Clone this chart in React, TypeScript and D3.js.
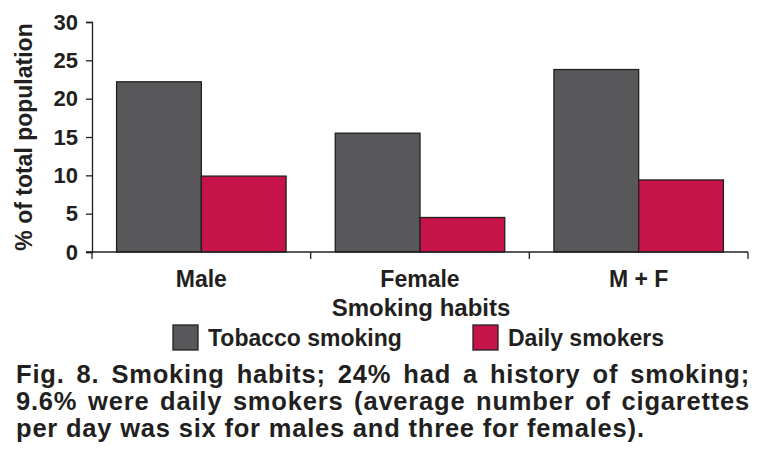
import React, { useEffect, useRef } from "react";
import * as d3 from "d3";

const width = 766;
const height = 463;

const categories = ["Male", "Female", "M + F"];
const seriesNames = ["Tobacco smoking", "Daily smokers"];
const tobacco = [22.2, 15.5, 23.8];
const daily = [9.9, 4.5, 9.4];
const yTicks = [0, 5, 10, 15, 20, 25, 30];
const captionLines = [
  "Fig. 8. Smoking habits; 24% had a history of smoking;",
  "9.6% were daily smokers (average number of cigarettes",
  "per day was six for males and three for females).",
];

const colors = ["#58585a", "#c6134a"];
const ink = "#231f20";
const font = "'Liberation Sans', Arial, Helvetica, sans-serif";

export default function App() {
  const ref = useRef<SVGSVGElement>(null);

  useEffect(() => {
    document.body.style.margin = "0";
    const svg = d3.select(ref.current);
    svg.selectAll("*").remove();

    const x = d3.scaleBand<string>().domain(categories).range([92, 748]);
    const xs = d3
      .scaleBand<string>()
      .domain(seriesNames)
      .range([0, x.bandwidth()])
      .paddingOuter(0.29);
    const y = d3.scaleLinear().domain([0, 30]).range([252, 22]);

    const data = categories.map((c, i) => ({ c, vals: [tobacco[i], daily[i]] }));

    // bars
    svg
      .append("g")
      .selectAll("g")
      .data(data)
      .join("g")
      .attr("transform", d => `translate(${x(d.c)},0)`)
      .selectAll("rect")
      .data(d => d.vals.map((v, k) => ({ s: seriesNames[k], v, k })))
      .join("rect")
      .attr("x", d => xs(d.s)!)
      .attr("y", d => y(d.v))
      .attr("width", xs.bandwidth())
      .attr("height", d => y(0) - y(d.v))
      .attr("fill", d => colors[d.k])
      .attr("stroke", ink)
      .attr("stroke-width", 1.3);

    // y axis
    const yAxis = svg
      .append("g")
      .attr("transform", "translate(92,0)")
      .call(d3.axisLeft(y).tickValues(yTicks).tickSize(6).tickPadding(8));
    yAxis.select(".domain").attr("stroke", ink).attr("stroke-width", 1.3);
    yAxis.selectAll(".tick line").attr("stroke", ink).attr("stroke-width", 1.3);
    yAxis
      .selectAll(".tick text")
      .attr("fill", ink)
      .attr("font-family", font)
      .attr("font-weight", "bold")
      .attr("font-size", 22);

    // x axis
    const xAxis = svg.append("g").attr("transform", `translate(0,${y(0)})`);
    xAxis
      .append("line")
      .attr("x1", 86)
      .attr("x2", 748)
      .attr("stroke", ink)
      .attr("stroke-width", 1.3);
    const bounds = [...categories.map(c => x(c)!), x.range()[1]];
    xAxis
      .selectAll("line.tk")
      .data(bounds)
      .join("line")
      .attr("class", "tk")
      .attr("x1", d => d)
      .attr("x2", d => d)
      .attr("y1", 0)
      .attr("y2", 7)
      .attr("stroke", ink)
      .attr("stroke-width", 1.3);

    const text = (g: any) =>
      g
        .attr("fill", ink)
        .attr("font-family", font)
        .attr("font-weight", "bold");

    svg
      .append("g")
      .selectAll("text")
      .data(categories)
      .join("text")
      .call(text)
      .attr("x", d => x(d)! + x.bandwidth() / 2)
      .attr("y", 287)
      .attr("text-anchor", "middle")
      .attr("font-size", 23)
      .text(d => d);

    svg
      .append("text")
      .call(text)
      .attr("x", 421)
      .attr("y", 316)
      .attr("text-anchor", "middle")
      .attr("font-size", 24)
      .text("Smoking habits");

    svg
      .append("text")
      .call(text)
      .attr("transform", "translate(32,137) rotate(-90)")
      .attr("text-anchor", "middle")
      .attr("font-size", 23)
      .text("% of total population");

    // legend
    const legendX = [173, 473];
    const lg = svg
      .append("g")
      .selectAll("g")
      .data(seriesNames)
      .join("g")
      .attr("transform", (d, i) => `translate(${legendX[i]},325)`);
    lg.append("rect")
      .attr("width", 25)
      .attr("height", 25)
      .attr("fill", (d, i) => colors[i])
      .attr("stroke", ink)
      .attr("stroke-width", 1.3);
    lg.append("text")
      .call(text)
      .attr("x", 35)
      .attr("y", 21)
      .attr("font-size", 23)
      .text(d => d);

    // caption, justified
    const left = 16;
    const right = 750;
    captionLines.forEach((line, i) => {
      const t = svg
        .append("text")
        .call(text)
        .attr("x", left)
        .attr("y", 383 + i * 27)
        .attr("font-size", 25.5)
        .attr("letter-spacing", 0.8)
        .text(line);
      if (i < captionLines.length - 1) {
        const natural = (t.node() as SVGTextElement).getComputedTextLength();
        const spaces = line.split(" ").length - 1;
        t.attr("word-spacing", (right - left - natural) / spaces);
      }
    });
  }, []);

  return <svg ref={ref} width={width} height={height} style={{ display: "block", background: "#fff" }} />;
}
